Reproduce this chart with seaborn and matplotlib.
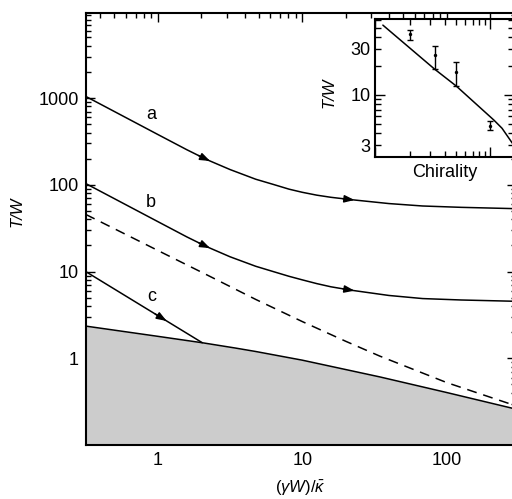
import numpy as np
import pandas as pd
import matplotlib
matplotlib.use("Agg")
import matplotlib.pyplot as plt
import seaborn as sns
from matplotlib.ticker import FixedLocator, NullFormatter, FixedFormatter, LogLocator, FuncFormatter

# ---------------- data ----------------
curve_x = [0.316, 0.562, 1.0, 1.585, 2.17, 3.16, 4.76, 6.31, 8.1, 10, 12.6, 15.8, 21.7, 39.8, 68.2, 126, 300]
curve_a = [1047, 631, 380, 254, 196, 150, 116, 101, 89.1, 82.0, 76.0, 71.8, 67.5, 60.8, 57.0, 55.0, 53.1]
curve_b = [103.5, 62.4, 37.6, 25.1, 19.4, 14.8, 11.5, 9.98, 8.81, 8.02, 7.26, 6.67, 6.10, 5.30, 4.88, 4.70, 4.54]

curve_c_x = [0.316, 2.03]
curve_c = [10.0, 1.51]

boundary_x = [0.316, 1.0, 2.03, 3.46, 4.76, 10, 34.4, 100, 300]
boundary_y = [2.35, 1.79, 1.51, 1.31, 1.197, 0.951, 0.61, 0.403, 0.26]

dashed_x = [0.316, 1.08, 2.2, 4.76, 10, 20, 34.4, 100, 200, 300]
dashed_y = [45.6, 16.4, 9.1, 4.77, 2.65, 1.57, 1.06, 0.525, 0.356, 0.284]

arrow_a_x = [2.3, 23.0]
arrow_b_x = [2.3, 23.0]
arrow_c_x = [1.15]

curve_labels = ["a", "b", "c"]
label_x = [0.90, 0.89, 0.90]
label_y = [643, 62, 5.16]

main_xticks = [1, 10, 100]
main_xticklabels = ["1", "10", "100"]
main_yticks = [1, 10, 100, 1000]
main_yticklabels = ["1", "10", "100", "1000"]

# inset
inset_line_x = [1.17, 3.29, 5.05, 10.7, 12.6, 15.5]
inset_line_y = [53, 18.5, 12.4, 5.5, 4.52, 3.16]
chir_x = [2.0, 3.29, 5.05, 10.0]
chir_y = [42.9, 26.0, 17.2, 4.77]
chir_lo = [37.2, 18.5, 12.4, 4.33]
chir_hi = [47.2, 32.4, 21.8, 5.34]
inset_minor_labels = {3: "3", 30: "30"}

# ---------------- style ----------------
sns.set_style("ticks")
plt.rcParams["font.family"] = ["Liberation Sans", "DejaVu Sans"]
plt.rcParams["mathtext.fontset"] = "custom"
plt.rcParams["mathtext.rm"] = "Liberation Sans"
plt.rcParams["mathtext.it"] = "Liberation Sans:italic"
plt.rcParams["mathtext.bf"] = "Liberation Sans:bold"
for k in ["text.color", "axes.labelcolor", "xtick.color", "ytick.color", "axes.edgecolor"]:
    plt.rcParams[k] = "black"

fig = plt.figure(figsize=(5.12, 4.99), dpi=100)
W, H = 512, 499
ml, mr, mt, mb = 85.7, 515.5, 13.3, 445.0
ax = fig.add_axes([ml / W, 1 - mb / H, (mr - ml) / W, (mb - mt) / H])
ax.set_xscale("log")
ax.set_yscale("log")
ax.set_xlim(0.316, 300)
ax.set_ylim(0.1, 9500)

LW = 1.1
# grey region
ax.fill_between(boundary_x, 0.01, boundary_y, color="#cccccc", lw=0, zorder=1)
sns.lineplot(x=boundary_x, y=boundary_y, ax=ax, color="k", lw=LW, estimator=None, sort=False, zorder=3)

df = pd.DataFrame({"x": curve_x, "a": curve_a, "b": curve_b})
sns.lineplot(data=df, x="x", y="a", ax=ax, color="k", lw=LW, estimator=None, sort=False, zorder=3)
sns.lineplot(data=df, x="x", y="b", ax=ax, color="k", lw=LW, estimator=None, sort=False, zorder=3)
sns.lineplot(x=curve_c_x, y=curve_c, ax=ax, color="k", lw=LW, estimator=None, sort=False, zorder=3)
sns.lineplot(x=dashed_x, y=dashed_y, ax=ax, color="k", lw=LW, estimator=None, sort=False,
             linestyle=(0, (6.5, 4.5)), zorder=3)


def add_arrows(xs, cx, cy):
    lx, ly = np.log10(cx), np.log10(cy)
    for x in xs:
        t = np.log10(x)
        tip = 10 ** np.interp(t, lx, ly)
        t0 = t - 0.08
        tail = 10 ** np.interp(t0, lx, ly)
        ax.annotate("", xy=(x, tip), xytext=(10 ** t0, tail),
                    arrowprops=dict(arrowstyle="-|>,head_length=0.6,head_width=0.22",
                                    color="k", lw=LW, shrinkA=0, shrinkB=0), zorder=4)


add_arrows(arrow_a_x, curve_x, curve_a)
add_arrows(arrow_b_x, curve_x, curve_b)
add_arrows(arrow_c_x, curve_c_x, curve_c)

for s, x, y in zip(curve_labels, label_x, label_y):
    ax.text(x, y, s, fontsize=13, ha="center", va="center", zorder=5)

ax.xaxis.set_major_locator(FixedLocator(main_xticks))
ax.xaxis.set_major_formatter(FixedFormatter(main_xticklabels))
ax.xaxis.set_minor_locator(LogLocator(base=10, subs=np.arange(2, 10), numticks=30))
ax.xaxis.set_minor_formatter(NullFormatter())
ax.yaxis.set_major_locator(FixedLocator(main_yticks))
ax.yaxis.set_major_formatter(FixedFormatter(main_yticklabels))
ax.yaxis.set_minor_locator(LogLocator(base=10, subs=np.arange(2, 10), numticks=30))
ax.yaxis.set_minor_formatter(NullFormatter())

ax.tick_params(which="both", direction="in", top=True, right=True, width=1.0, labelsize=13, pad=5)
ax.tick_params(which="major", length=6.5)
ax.tick_params(which="minor", length=3.5)
for sp in ax.spines.values():
    sp.set_linewidth(1.5)

ax.set_xlabel(r"$(\gamma W)/\bar{\kappa}$", fontsize=12)
ax.xaxis.set_label_coords(0.5, -0.078)
ax.set_ylabel("T/W", fontsize=12, fontstyle="italic")
ax.yaxis.set_label_coords(-0.143, 0.54)

# ---------------- inset ----------------
il, ir, it_, ib = 375.0, 514.0, 19.3, 157.3
ax2 = fig.add_axes([il / W, 1 - ib / H, (ir - il) / W, (ib - it_) / H])
ax2.set_facecolor("white")
ax2.set_xscale("log")
ax2.set_yscale("log")
ax2.set_xlim(1, 16)
ax2.set_ylim(2.26, 60.9)

sns.lineplot(x=inset_line_x, y=inset_line_y, ax=ax2, color="k", lw=LW, estimator=None, sort=False)
yerr = [np.array(chir_y) - np.array(chir_lo), np.array(chir_hi) - np.array(chir_y)]
ax2.errorbar(chir_x, chir_y, yerr=yerr, fmt="none", ecolor="k", elinewidth=1.0, capsize=2.5, capthick=1.0)
sns.scatterplot(x=chir_x, y=chir_y, ax=ax2, color="k", s=6, edgecolor="k", linewidth=0, zorder=5)

ax2.xaxis.set_major_locator(FixedLocator([1, 10]))
ax2.xaxis.set_major_formatter(NullFormatter())
ax2.xaxis.set_minor_locator(LogLocator(base=10, subs=np.arange(2, 10), numticks=30))
ax2.xaxis.set_minor_formatter(NullFormatter())
ax2.yaxis.set_major_locator(FixedLocator([10]))
ax2.yaxis.set_major_formatter(FixedFormatter(["10"]))
ax2.yaxis.set_minor_locator(LogLocator(base=10, subs=np.arange(2, 10), numticks=30))
ax2.yaxis.set_minor_formatter(FuncFormatter(
    lambda v, p: next((s for k, s in inset_minor_labels.items() if abs(v - k) < 1e-6 * k), "")))

ax2.tick_params(which="both", direction="in", top=True, right=True, width=1.0, labelsize=13, pad=3)
ax2.tick_params(which="major", length=7)
ax2.tick_params(which="minor", length=4.2)
for sp in ax2.spines.values():
    sp.set_linewidth(1.5)

ax2.set_xlabel("Chirality", fontsize=13, labelpad=2)
ax2.set_ylabel("T/W", fontsize=12, fontstyle="italic")
ax2.yaxis.set_label_coords(-0.28, 0.466)

fig.savefig("out.png", dpi=100)
